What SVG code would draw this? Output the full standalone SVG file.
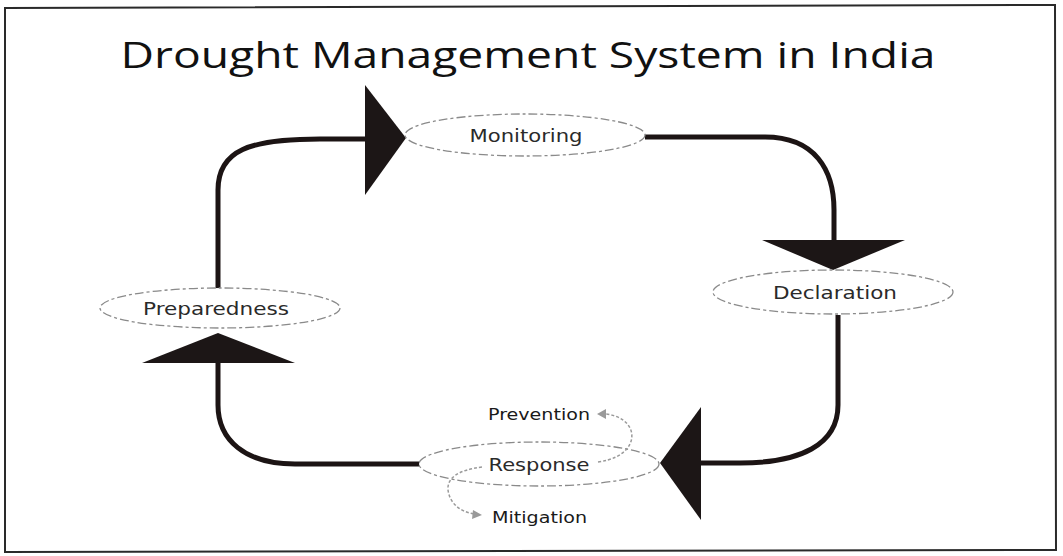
<svg xmlns="http://www.w3.org/2000/svg" width="1063" height="556" viewBox="0 0 1063 556">
<defs>
<style>
.node ellipse{fill:#fff;stroke:#8a8a8a;stroke-width:1.3;stroke-dasharray:9 3 3 3}
.node text{font-family:"DejaVu Sans",sans-serif;font-size:17px;fill:#2a2a2a;text-anchor:middle}
.sub text{font-family:"DejaVu Sans",sans-serif;font-size:15px;fill:#1a1a1a}
.conn{fill:none;stroke:#1c1414;stroke-width:5;stroke-linecap:butt}
.head{fill:#1c1616}
.sub path{fill:none;stroke:#9a9a9a;stroke-width:1.5;stroke-dasharray:3 2}
.sub polygon{fill:#9a9a9a}
</style>
</defs>
<rect width="1063" height="556" fill="#fff"/>
<path d="M5,8 L1055,5 L1056,550 L5,552 Z" fill="none" stroke="#2a2a2a" stroke-width="2"/>
<text x="528" y="68" font-family="Open Sans, Liberation Sans, sans-serif" font-size="36" fill="#111" text-anchor="middle" textLength="815" lengthAdjust="spacingAndGlyphs">Drought Management System in India</text>

<g id="connectors">
<path class="conn" d="M218,289 V190 C218,150 250,139 320,139 H368"/>
<polygon class="head" points="365,85 406,138 365,195"/>
<path class="conn" d="M645,137 H765 C815,137 834,170 834,210 V242"/>
<polygon class="head" points="762,240 905,240 833,270"/>
<path class="conn" d="M838,315 V405 C838,445 800,463 740,463 H698"/>
<polygon class="head" points="701,407 701,520 660,463"/>
<path class="conn" d="M420,464 H295 C245,464 218,440 218,405 V360"/>
<polygon class="head" points="142,363 295,363 218,333"/>
</g>

<g id="node-monitoring" class="node">
<ellipse cx="525" cy="135" rx="120" ry="21"/>
<text x="526" y="142" textLength="113" lengthAdjust="spacingAndGlyphs">Monitoring</text>
</g>
<g id="node-declaration" class="node">
<ellipse cx="833" cy="292" rx="120" ry="22"/>
<text x="835" y="299" textLength="124" lengthAdjust="spacingAndGlyphs">Declaration</text>
</g>
<g id="node-preparedness" class="node">
<ellipse cx="220" cy="308" rx="120" ry="20"/>
<text x="216" y="315" textLength="146" lengthAdjust="spacingAndGlyphs">Preparedness</text>
</g>
<g id="node-response" class="node">
<ellipse cx="539" cy="464" rx="120" ry="22"/>
<text x="539" y="471" textLength="101" lengthAdjust="spacingAndGlyphs">Response</text>
</g>

<g id="node-prevention" class="sub">
<path d="M598,462 C628,458 636,440 630,428 C625,418 612,414 604,414"/>
<polygon points="597,414 606,409 606,419"/>
<text x="488" y="420" textLength="102" lengthAdjust="spacingAndGlyphs">Prevention</text>
</g>
<g id="node-mitigation" class="sub">
<path d="M482,467 C458,470 447,478 448,490 C450,505 462,512 474,514"/>
<polygon points="482,515 473,510 472,519"/>
<text x="492" y="523" textLength="95" lengthAdjust="spacingAndGlyphs">Mitigation</text>
</g>
</svg>
